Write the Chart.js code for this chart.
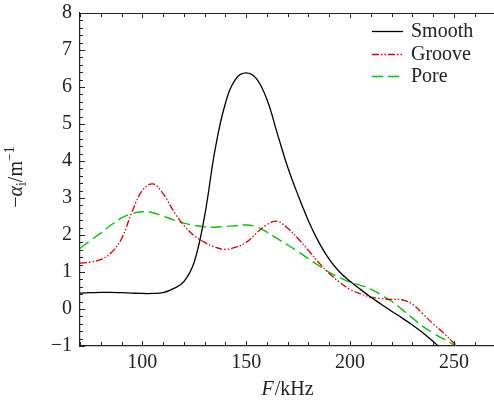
<!DOCTYPE html>
<html>
<head>
<meta charset="utf-8">
<script src="https://cdn.jsdelivr.net/npm/chart.js@4/dist/chart.umd.min.js"></script>
<style>
  html, body { margin: 0; padding: 0; background: #fff; overflow: hidden; }
  .chart__container { position: relative; width: 494px; height: 401px; }
</style>
</head>
<body>
<div class="chart__container">
  <canvas id="my-chart" width="494" height="401"></canvas>
</div>
<script>
// frequency in kHz
const freq = [70, 75, 80, 85, 90, 95, 100, 105, 110, 115, 120, 125, 130, 135, 140, 145, 150, 155, 160,
  165, 170, 175, 180, 185, 190, 195, 200, 205, 210, 215, 220, 225, 230, 235, 240, 245, 250, 255];

const smooth = [0.43, 0.44, 0.45, 0.45, 0.44, 0.43, 0.42, 0.42, 0.44, 0.55, 0.74, 1.27, 2.52, 4.3, 5.56,
  6.22, 6.38, 6.22, 5.66, 4.74, 3.83, 3.07, 2.38, 1.8, 1.34, 1.0, 0.75, 0.53, 0.32, 0.13, -0.06,
  -0.24, -0.43, -0.64, -0.88, -1.13, -1.38, -1.6];

const groove = [1.24, 1.27, 1.34, 1.52, 1.9, 2.62, 3.2, 3.38, 3.12, 2.65, 2.26, 1.98, 1.8, 1.67, 1.61,
  1.67, 1.8, 2.05, 2.28, 2.37, 2.18, 1.9, 1.58, 1.25, 0.96, 0.72, 0.53, 0.41, 0.32, 0.28, 0.26, 0.25,
  0.13, -0.13, -0.4, -0.65, -0.92, -1.2];

const pore = [1.64, 1.85, 2.05, 2.27, 2.46, 2.58, 2.63, 2.6, 2.51, 2.41, 2.32, 2.26, 2.22, 2.21, 2.23,
  2.25, 2.27, 2.22, 2.08, 1.9, 1.73, 1.55, 1.36, 1.17, 0.99, 0.85, 0.73, 0.64, 0.54, 0.38, 0.21,
  -0.01, -0.24, -0.47, -0.65, -0.81, -0.97, -1.15];

const labels = ['Smooth', 'Groove', 'Pore'];
const xTicks = [70, 80, 90, 100, 110, 120, 130, 140, 150, 160, 170, 180, 190, 200, 210, 220, 230, 240, 250, 260];
const xLabelTicks = [100, 150, 200, 250];
const yTicks = [-1, 0, 1, 2, 3, 4, 5, 6, 7, 8];
const yMinorStep = 0.2;

const FONT = '"Liberation Serif", "Times New Roman", serif';

const toPoints = (ys) => ys.map((y, i) => ({ x: freq[i], y }));

// inward tick marks, top spine, axis titles and legend
const decorPlugin = {
  id: 'decor',
  afterDraw(chart) {
    const { ctx, chartArea: a, scales } = chart;
    const xs = scales.x;
    const ys = scales.y;
    ctx.save();
    ctx.strokeStyle = '#222';
    ctx.lineWidth = 1.2;
    // top spine
    ctx.beginPath();
    ctx.moveTo(a.left, a.top + 0.5);
    ctx.lineTo(a.right, a.top + 0.5);
    ctx.stroke();
    ctx.lineWidth = 1;
    ctx.beginPath();
    xTicks.forEach(v => {
      const px = Math.round(xs.getPixelForValue(v)) + 0.5;
      const len = xLabelTicks.includes(v) ? 5 : 4;
      ctx.moveTo(px, a.bottom);
      ctx.lineTo(px, a.bottom - len);
      ctx.moveTo(px, a.top);
      ctx.lineTo(px, a.top + len);
    });
    for (let v = yTicks[0]; v <= yTicks[yTicks.length - 1] + 1e-6; v += yMinorStep) {
      const py = Math.round(ys.getPixelForValue(v)) + 0.5;
      const major = Math.abs(v - Math.round(v)) < 1e-6;
      const len = major ? 5 : 3;
      ctx.moveTo(a.left, py);
      ctx.lineTo(a.left + len, py);
    }
    ctx.stroke();

    ctx.fillStyle = '#222';
    ctx.textBaseline = 'alphabetic';

    // x title: F/kHz
    const xMain = '20px ' + FONT;
    const xIt = 'italic 20px ' + FONT;
    ctx.font = xIt;
    const wF = ctx.measureText('F').width;
    ctx.font = xMain;
    const wRest = ctx.measureText('/kHz').width;
    let cx = (a.left + a.right) / 2 - (wF + wRest) / 2;
    ctx.textAlign = 'left';
    ctx.font = xIt;
    ctx.fillText('F', cx, 395);
    ctx.font = xMain;
    ctx.fillText('/kHz', cx + wF + 1, 395);

    // y title: −α_i/m^-1
    const parts = [
      { t: '\u2212', f: '20px ' + FONT, dy: 0 },
      { t: '\u03b1', f: 'italic 20px ' + FONT, dy: 0 },
      { t: 'i', f: '14px ' + FONT, dy: 4 },
      { t: '/m', f: '20px ' + FONT, dy: 0 },
      { t: '\u22121', f: '14px ' + FONT, dy: -8 },
    ];
    let total = 0;
    parts.forEach(p => { ctx.font = p.f; p.w = ctx.measureText(p.t).width; total += p.w; });
    ctx.translate(22, 177);
    ctx.rotate(-Math.PI / 2);
    let tx = -total / 2;
    parts.forEach(p => {
      ctx.font = p.f;
      ctx.fillText(p.t, tx, p.dy);
      tx += p.w;
    });
    ctx.setTransform(1, 0, 0, 1, 0, 0);

    // legend
    const lx0 = 372, lx1 = 403, tx0 = 411, ly0 = 31, lstep = 22.7;
    chart.data.datasets.forEach((ds, i) => {
      const y = Math.round(ly0 + i * lstep) + 0.5;
      ctx.strokeStyle = ds.borderColor;
      ctx.lineWidth = ds.borderWidth;
      ctx.setLineDash(ds.borderDash || []);
      ctx.beginPath();
      ctx.moveTo(lx0, y);
      ctx.lineTo(lx1, y);
      ctx.stroke();
      ctx.setLineDash([]);
      ctx.font = '20px ' + FONT;
      ctx.fillStyle = '#222';
      ctx.textBaseline = 'middle';
      ctx.fillText(ds.label, tx0, y);
    });
    ctx.restore();
  },
};

const data = {
  datasets: [
    {
      label: labels[0],
      data: toPoints(smooth),
      borderColor: '#000',
      borderWidth: 1.3,
      borderDash: [],
    },
    {
      label: labels[1],
      data: toPoints(groove),
      borderColor: '#e00000',
      borderWidth: 1.3,
      borderDash: [7, 2, 1.5, 2, 1.5, 2],
    },
    {
      label: labels[2],
      data: toPoints(pore),
      borderColor: '#00c800',
      borderWidth: 1.4,
      borderDash: [11, 5],
    },
  ],
};

const options = {
  responsive: false,
  animation: false,
  maintainAspectRatio: false,
  layout: { padding: { top: 13, left: 0, right: 0, bottom: 0 } },
  elements: {
    point: { radius: 0 },
    line: { tension: 0.4, fill: false },
  },
  plugins: { legend: { display: false }, tooltip: { enabled: false } },
  scales: {
    x: {
      type: 'linear',
      min: 70,
      max: 269.3,
      afterBuildTicks: (scale) => { scale.ticks = xTicks.map(v => ({ value: v })); },
      afterFit: (scale) => {
        scale.height = 55;
        scale.paddingLeft = 0;
        scale.paddingRight = 0;
      },
      grid: { display: false, drawTicks: false },
      border: { display: true, color: '#222', width: 1.2 },
      ticks: {
        autoSkip: false,
        maxRotation: 0,
        padding: 5,
        color: '#222',
        font: { family: FONT, size: 20 },
        callback: (v) => (xLabelTicks.includes(v) ? String(v) : ''),
      },
    },
    y: {
      min: -1,
      max: 8,
      afterBuildTicks: (scale) => { scale.ticks = yTicks.map(v => ({ value: v })); },
      afterFit: (scale) => {
        scale.width = 80;
        scale.paddingTop = 0;
        scale.paddingBottom = 0;
      },
      grid: { display: false, drawTicks: false },
      border: { display: true, color: '#222', width: 1.2 },
      ticks: {
        padding: 8,
        color: '#222',
        font: { family: FONT, size: 20 },
        callback: (v) => (v < 0 ? '\u2212' + Math.abs(v) : String(v)),
      },
    },
  },
};

new Chart(document.getElementById('my-chart'), {
  type: 'line',
  data,
  options,
  plugins: [decorPlugin],
});
</script>
</body>
</html>
